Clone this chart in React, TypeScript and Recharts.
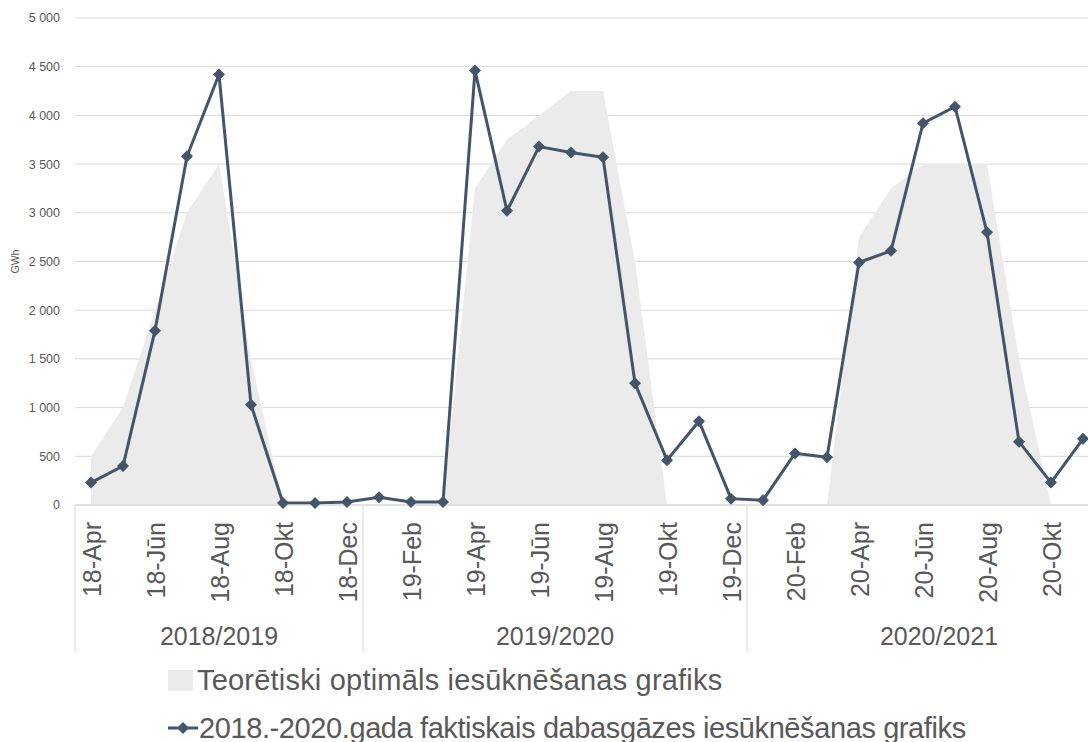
import React from 'react';
import { ComposedChart, Area, Line, XAxis, YAxis, CartesianGrid, Legend, Label } from 'recharts';

const categories = [
  '18-Apr', '18-Mai', '18-Jūn', '18-Jūl', '18-Aug', '18-Sep', '18-Okt', '18-Nov', '18-Dec',
  '19-Jan', '19-Feb', '19-Mar', '19-Apr', '19-Mai', '19-Jūn', '19-Jūl', '19-Aug', '19-Sep', '19-Okt', '19-Nov', '19-Dec',
  '20-Jan', '20-Feb', '20-Mar', '20-Apr', '20-Mai', '20-Jūn', '20-Jūl', '20-Aug', '20-Sep', '20-Okt', '20-Nov', '20-Dec',
];

const actual: (number | null)[] = [
  230, 400, 1790, 3580, 4420, 1030, 20, 20, 30,
  80, 30, 30, 4460, 3020, 3680, 3620, 3570, 1250, 460, 860, 65,
  50, 530, 490, 2490, 2610, 3920, 4090, 2800, 650, 230, 680, null,
];

const optimal: (number | null)[] = [
  500, 1000, 2000, 3000, 3500, 1500, 0, 0, 0,
  0, 0, 0, 3250, 3750, 4000, 4250, 4250, 2500, 0, 0, 0,
  0, 0, 0, 2750, 3250, 3500, 3500, 3500, 1500, 0, 0, null,
];

const groups = [
  { label: '2018/2019', start: 0, count: 9 },
  { label: '2019/2020', start: 9, count: 12 },
  { label: '2020/2021', start: 21, count: 12 },
];

const yTicks = [0, 500, 1000, 1500, 2000, 2500, 3000, 3500, 4000, 4500, 5000];

const seriesActual = '2018.-2020.gada faktiskais dabasgāzes iesūknēšanas grafiks';
const seriesOptimal = 'Teorētiski optimāls iesūknēšanas grafiks';

const data = categories.map((c, i) => ({ cat: c, actual: actual[i], optimal: optimal[i] }));

const FONT = '"Liberation Sans", Arial, sans-serif';
const TEXT = '#595959';
const LINE = '#44546a';
const AREA = '#ebebeb';
const GRID = '#d9d9d9';

const CHART_W = 1131;
const Y_W = 75;
const BAND = (CHART_W - Y_W) / categories.length;

const fmt = (v: number) => (v >= 1000 ? `${Math.floor(v / 1000)} ${String(v % 1000).padStart(3, '0')}` : String(v));

const MonthTick = (props: any) => {
  const { x, y, payload } = props;
  const index: number = payload.index;
  const half = BAND / 2;
  const els: React.ReactNode[] = [];
  if (index % 2 === 0 && x < 1100) {
    els.push(
      <text key="m" transform={`translate(${x},${y}) rotate(-90)`} x={-17} y={10} textAnchor="end"
        fontSize={25} fill={TEXT} fontFamily={FONT}>{payload.value}</text>
    );
  }
  groups.forEach((g) => {
    if (g.start === index) {
      els.push(<line key="s" x1={x - half} x2={x - half} y1={y} y2={y + 147} stroke={GRID} strokeWidth={1} />);
      els.push(
        <text key="g" x={x - half + g.count * half} y={y + 140} textAnchor="middle" fontSize={25}
          fill={TEXT} fontFamily={FONT}>{g.label}</text>
      );
    }
  });
  return <g>{els}</g>;
};

const Diamond = (props: any) => {
  const { cx, cy, stroke } = props;
  if (cx == null || cy == null || props.value == null) return <g />;
  const r = 6;
  return <path d={`M${cx},${cy - r} L${cx + r},${cy} L${cx},${cy + r} L${cx - r},${cy} Z`} fill={stroke || LINE} />;
};

const LegendContent = () => (
  <div style={{ height: 80, paddingLeft: 168, fontFamily: FONT, fontSize: 29, color: TEXT, boxSizing: 'border-box' }}>
    <div style={{ display: 'flex', alignItems: 'center', height: 36, marginTop: 0 }}>
      <svg width={29} height={21} style={{ display: 'block' }}>
        <rect x={0} y={0} width={25} height={21} fill={AREA} />
      </svg>
      <span style={{ whiteSpace: 'nowrap', letterSpacing: 0.2 }}>{seriesOptimal}</span>
    </div>
    <div style={{ display: 'flex', alignItems: 'center', height: 36, marginTop: 12 }}>
      <svg width={31} height={14} style={{ display: 'block' }}>
        <line x1={0} x2={30} y1={7} y2={7} stroke={LINE} strokeWidth={3} />
        <path d="M15,1 L21,7 L15,13 L9,7 Z" fill={LINE} />
      </svg>
      <span style={{ whiteSpace: 'nowrap', letterSpacing: -0.4 }}>{seriesActual}</span>
    </div>
  </div>
);

export default function App() {
  return (
    <div style={{ position: 'fixed', left: 0, top: 0, width: 1088, height: 742, overflow: 'hidden', background: '#fff' }}>
      <ComposedChart width={CHART_W} height={742} data={data} margin={{ top: 18, right: 0, bottom: 0, left: 0 }}>
        <CartesianGrid vertical={false} stroke={GRID} strokeWidth={1} />
        <XAxis dataKey="cat" interval={0} height={157} tickSize={0} tickMargin={0}
          padding={{ left: BAND / 2, right: BAND / 2 }}
          axisLine={{ stroke: GRID, strokeWidth: 1 }} tickLine={false} tick={<MonthTick />} />
        <YAxis domain={[0, 5000]} ticks={yTicks} width={Y_W} tickSize={0} tickMargin={15} axisLine={false}
          tickLine={false} tickFormatter={fmt} interval={0}
          tick={{ fontSize: 12.5, fill: TEXT, fontFamily: FONT }}>
          <Label content={(p: any) => {
            const vb = p.viewBox || { x: 0, y: 18, width: 75, height: 487 };
            const cx = 15;
            const cy = vb.y + vb.height / 2;
            return (
              <text x={cx} y={cy} transform={`rotate(-90, ${cx}, ${cy})`} textAnchor="middle" dominantBaseline="central"
                fontSize={10.5} fill={TEXT} fontFamily={FONT}>GWh</text>
            );
          }} />
        </YAxis>
        <Legend verticalAlign="bottom" align="left" content={<LegendContent />} />
        <Area type="linear" dataKey="optimal" name={seriesOptimal} fill={AREA} fillOpacity={1} stroke="none"
          isAnimationActive={false} activeDot={false} />
        <Line type="linear" dataKey="actual" name={seriesActual} stroke={LINE} strokeWidth={3}
          dot={<Diamond />} activeDot={false} isAnimationActive={false} connectNulls={false} />
      </ComposedChart>
    </div>
  );
}
